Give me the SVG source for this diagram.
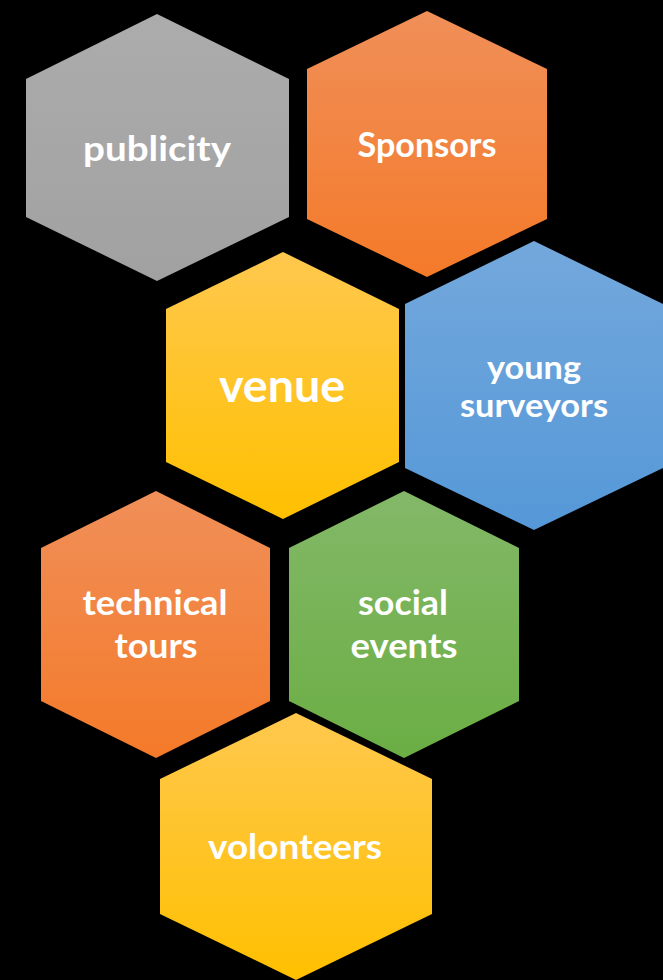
<svg xmlns="http://www.w3.org/2000/svg" width="663" height="980" viewBox="0 0 663 980">
<defs>
<linearGradient id="gGray" x1="0" y1="0" x2="0" y2="1"><stop offset="0" stop-color="#acacac"/><stop offset="1" stop-color="#a1a1a1"/></linearGradient>
<linearGradient id="gOrange" x1="0" y1="0" x2="0" y2="1"><stop offset="0" stop-color="#f08f59"/><stop offset="1" stop-color="#f47a29"/></linearGradient>
<linearGradient id="gYellow" x1="0" y1="0" x2="0" y2="1"><stop offset="0" stop-color="#ffc84e"/><stop offset="1" stop-color="#ffc000"/></linearGradient>
<linearGradient id="gBlue" x1="0" y1="0" x2="0" y2="1"><stop offset="0" stop-color="#73a8dc"/><stop offset="1" stop-color="#5598d8"/></linearGradient>
<linearGradient id="gGreen" x1="0" y1="0" x2="0" y2="1"><stop offset="0" stop-color="#83b868"/><stop offset="1" stop-color="#6bae44"/></linearGradient>
</defs>
<style>
.lbl{font-family:Lato,"Open Sans","Liberation Sans",sans-serif;font-weight:bold;fill:#ffffff;text-anchor:middle;font-size:35px}
.big{font-size:46px}
.sm{font-size:32px}
</style>
<rect x="0" y="0" width="663" height="980" fill="#000000"/>
<g id="connectors"></g>
<g id="publicity">
<polygon points="157,14 289,79 289,217 157,281 26,217 26,79" fill="url(#gGray)"/>
<text class="lbl" x="157" y="161" textLength="148" lengthAdjust="spacingAndGlyphs">publicity</text>
</g>
<g id="sponsors">
<polygon points="427,11 547,69 547,219 427,277 307,219 307,69" fill="url(#gOrange)"/>
<text class="lbl" x="427" y="157" textLength="139" lengthAdjust="spacingAndGlyphs">Sponsors</text>
</g>
<g id="venue">
<polygon points="283,252 399,309 399,462 283,519 166,462 166,309" fill="url(#gYellow)"/>
<text class="lbl big" x="282" y="402" textLength="126" lengthAdjust="spacingAndGlyphs">venue</text>
</g>
<g id="young-surveyors">
<polygon points="534,241 663,304 663,468 534,530 405,468 405,304" fill="url(#gBlue)"/>
<text class="lbl sm" x="534" y="379" textLength="94" lengthAdjust="spacingAndGlyphs">young</text>
<text class="lbl sm" x="534" y="417" textLength="148" lengthAdjust="spacingAndGlyphs">surveyors</text>
</g>
<g id="technical-tours">
<polygon points="156,491 270,548 270,701 156,758 41,701 41,548" fill="url(#gOrange)"/>
<text class="lbl" x="155" y="615" textLength="145" lengthAdjust="spacingAndGlyphs">technical</text>
<text class="lbl" x="156" y="658" textLength="83" lengthAdjust="spacingAndGlyphs">tours</text>
</g>
<g id="social-events">
<polygon points="404,491 519,548 519,701 404,758 289,701 289,548" fill="url(#gGreen)"/>
<text class="lbl" x="403" y="615" textLength="90" lengthAdjust="spacingAndGlyphs">social</text>
<text class="lbl" x="404" y="658" textLength="107" lengthAdjust="spacingAndGlyphs">events</text>
</g>
<g id="volonteers">
<polygon points="296,713 432,779 432,914 296,980 160,914 160,779" fill="url(#gYellow)"/>
<text class="lbl" x="295" y="859" textLength="174" lengthAdjust="spacingAndGlyphs">volonteers</text>
</g>
</svg>
